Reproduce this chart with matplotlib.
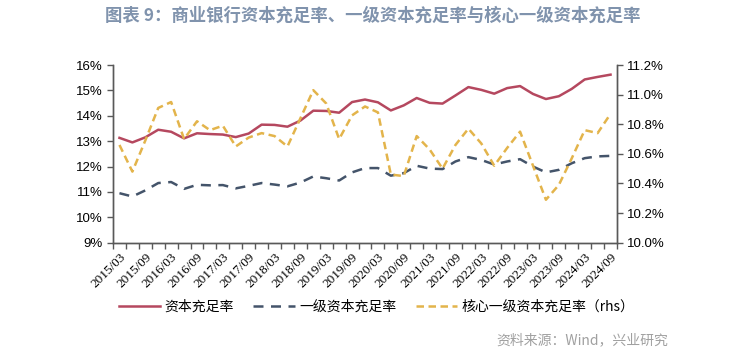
import numpy as np
import matplotlib
matplotlib.use("Agg")
import matplotlib.pyplot as plt
from matplotlib.ticker import FuncFormatter

plt.rcParams['font.family'] = ['Noto Sans CJK SC', 'DejaVu Sans']

# quarterly data, 2015/03 - 2024/09
quarters = [f"{y}/{m}" for y in range(2015, 2025) for m in ("03", "06", "09", "12")][:39]

car = [13.13, 12.95, 13.15, 13.45, 13.37, 13.11, 13.31, 13.28, 13.26, 13.16,
       13.30, 13.65, 13.64, 13.57, 13.81, 14.20, 14.19, 14.12, 14.54, 14.64,
       14.53, 14.21, 14.41, 14.70, 14.51, 14.48, 14.80, 15.13, 15.02, 14.87,
       15.09, 15.17, 14.86, 14.66, 14.77, 15.06, 15.43, 15.53, 15.62]

tier1 = [10.95, 10.82, 11.06, 11.35, 11.39, 11.12, 11.28, 11.26, 11.27, 11.14,
         11.24, 11.35, 11.29, 11.22, 11.37, 11.61, 11.54, 11.45, 11.77, 11.94,
         11.94, 11.64, 11.74, 12.03, 11.92, 11.90, 12.20, 12.37, 12.26, 12.08,
         12.20, 12.29, 12.00, 11.77, 11.87, 12.13, 12.33, 12.40, 12.42]

core_tier1 = [10.66, 10.48, 10.69, 10.91, 10.95, 10.70, 10.82, 10.76, 10.79, 10.65,
              10.71, 10.74, 10.72, 10.65, 10.84, 11.03, 10.94, 10.70, 10.86, 10.92,
              10.88, 10.46, 10.45, 10.72, 10.63, 10.50, 10.66, 10.77, 10.67, 10.52,
              10.64, 10.75, 10.52, 10.29, 10.39, 10.57, 10.76, 10.74, 10.87]

labels = ["资本充足率", "一级资本充足率", "核心一级资本充足率（rhs）"]
colors = ["#B5485F", "#44546A", "#E3B44B"]

x = np.arange(len(quarters))

fig = plt.figure(figsize=(7.5, 3.57), dpi=100)
ax = fig.add_axes([113 / 750, 1 - 242.7 / 357, (617 - 113) / 750, (242.7 - 65) / 357])
ax2 = ax.twinx()

l1, = ax.plot(x, car, color=colors[0], lw=1.8, label=labels[0])
l2, = ax.plot(x, tier1, color=colors[1], lw=1.8, dashes=(4, 3), label=labels[1])
l3, = ax2.plot(x, core_tier1, color=colors[2], lw=1.8, dashes=(3, 1.8), label=labels[2])

ax.set_xlim(-0.5, len(x) - 0.5)
ax.set_ylim(9, 16)
ax.set_yticks(range(9, 17))
ax.yaxis.set_major_formatter(FuncFormatter(lambda v, p: f"{v:.0f}%"))
ax2.set_ylim(10.0, 11.2)
ax2.set_yticks(np.arange(10.0, 11.21, 0.2))
ax2.yaxis.set_major_formatter(FuncFormatter(lambda v, p: f"{v:.1f}%"))

# tick marks on quarter boundaries, labels every half year
ax.set_xticks(np.arange(-0.5, len(x), 1))
ax.set_xticklabels([])
ax.set_xticks(x[::2], minor=True)
ax.set_xticklabels(quarters[::2], minor=True, rotation=45, ha="right",
                   rotation_mode="anchor", fontsize=9.5, family="Liberation Serif")
ax.tick_params(axis="x", which="major", length=4, width=1, color="#595959", direction="out")
ax.tick_params(axis="x", which="minor", length=0, pad=6)
ax.tick_params(axis="y", length=4, width=1, color="#595959", labelsize=9.5)
ax2.tick_params(axis="y", length=4, width=1, color="#595959", labelsize=9.5)
for lab in ax.get_yticklabels() + ax2.get_yticklabels():
    lab.set_family("Liberation Sans")

for a in (ax, ax2):
    a.spines["top"].set_visible(False)
    for s in ("left", "right", "bottom"):
        a.spines[s].set_color("#595959")
        a.spines[s].set_linewidth(1)

fig.legend(handles=[l1, l2, l3], loc="center left", bbox_to_anchor=(113 / 750, 1 - 307 / 357),
           ncol=3, frameon=False, fontsize=10, handlelength=3.0, handletextpad=0.3,
           columnspacing=1.4, borderaxespad=0)

fig.text(0.497, 1 - 16 / 357, "图表 9：商业银行资本充足率、一级资本充足率与核心一级资本充足率",
         ha="center", va="center", fontsize=12.5, fontweight="bold", color="#8093AD")
fig.text(668 / 750, 1 - 340 / 357, "资料来源：Wind，兴业研究", ha="right", va="center",
         fontsize=10, color="#A0A0A0")

fig.savefig("out.png", dpi=100)
